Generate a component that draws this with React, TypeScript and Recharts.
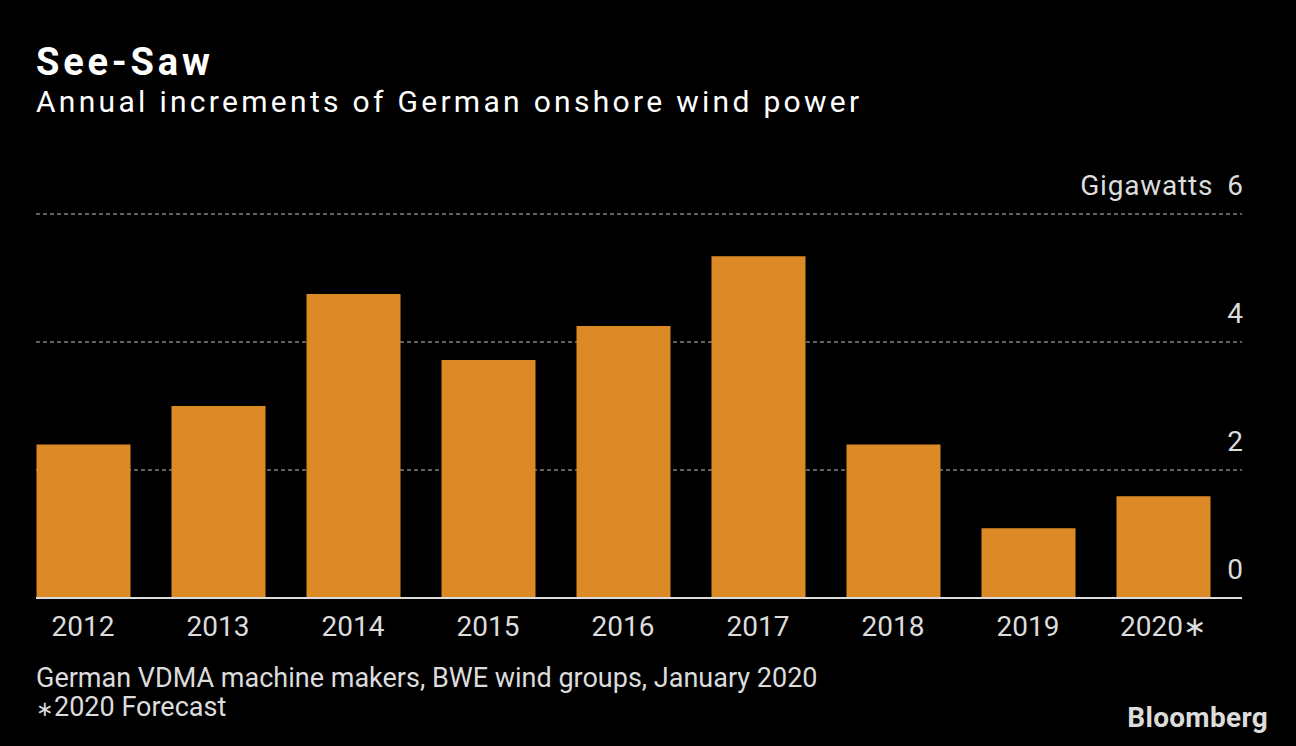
import React from "react"
import { BarChart, Bar, XAxis, YAxis, CartesianGrid } from "recharts"

const years = ["2012", "2013", "2014", "2015", "2016", "2017", "2018", "2019", "2020\u2217"]
const gigawatts = [2.4, 3.0, 4.75, 3.72, 4.25, 5.34, 2.4, 1.09, 1.59]
const yTicks = [0, 2, 4, 6]

const data = years.map((year, i) => ({ year, value: gigawatts[i] }))

const FONT = "Roboto, 'Noto Sans', sans-serif"
const TEXT = "#dcdcdc"

if (typeof document !== "undefined") document.body.style.margin = "0"

function XTick({ x, y, payload }: any) {
  return (
    <text x={x} y={y + 38} textAnchor="middle" fill={TEXT} fontSize={28} fontFamily={FONT}>
      {payload.value}
    </text>
  )
}

function YTick({ x, y, payload }: any) {
  if (payload.value === 6) {
    return (
      <text x={x + 1} y={y - 19} textAnchor="end" fill={TEXT} fontSize={28} fontFamily={FONT}>
        <tspan letterSpacing={0.8}>Gigawatts</tspan>
        <tspan dx={14}>6</tspan>
      </text>
    )
  }
  return (
    <text x={x + 1} y={y - 19} textAnchor="end" fill={TEXT} fontSize={28} fontFamily={FONT}>
      {payload.value}
    </text>
  )
}

export default function App() {
  return (
    <div style={{ position: "relative", width: 1296, height: 746, background: "#000", fontFamily: FONT }}>
      <div style={{ position: "absolute", left: 36, top: 40, color: "#fff", fontSize: 38, fontWeight: 700, letterSpacing: 3.8, lineHeight: "44px" }}>
        See-Saw
      </div>
      <div style={{ position: "absolute", left: 36, top: 84, color: "#fff", fontSize: 30, letterSpacing: 3.3, lineHeight: "36px", whiteSpace: "nowrap" }}>
        Annual increments of German onshore wind power
      </div>

      <BarChart
        width={1296}
        height={746}
        data={data}
        margin={{ top: 214, right: 0, left: 36, bottom: 0 }}
        style={{ position: "absolute", left: 0, top: 0 }}
      >
        <CartesianGrid vertical={false} stroke="#808080" strokeDasharray="4 3" strokeWidth={1.5} />
        <XAxis
          dataKey="year"
          height={148}
          padding={{ left: -20.5, right: 11.5 }}
          axisLine={{ stroke: "#dcdcdc", strokeWidth: 2 }}
          tickLine={false}
          tickSize={0}
          tickMargin={0}
          tick={<XTick />}
          interval={0}
        />
        <YAxis
          orientation="right"
          width={54}
          domain={[0, 6]}
          ticks={yTicks}
          axisLine={false}
          tickLine={false}
          tickSize={0}
          tickMargin={0}
          tick={<YTick />}
        />
        <Bar dataKey="value" fill="#db8a26" barSize={94} isAnimationActive={false} />
      </BarChart>

      <div style={{ position: "absolute", left: 36, top: 664, color: TEXT, fontSize: 27, lineHeight: "29px", whiteSpace: "nowrap" }}>
        German VDMA machine makers, BWE wind groups, January 2020
        <br />
        <span style={{ fontSize: 21 }}>{"\u2217"}</span>2020 Forecast
      </div>
      <div style={{ position: "absolute", right: 28, top: 703, color: TEXT, fontSize: 28, fontWeight: 700, letterSpacing: 0.3, lineHeight: "30px" }}>
        Bloomberg
      </div>
    </div>
  )
}
